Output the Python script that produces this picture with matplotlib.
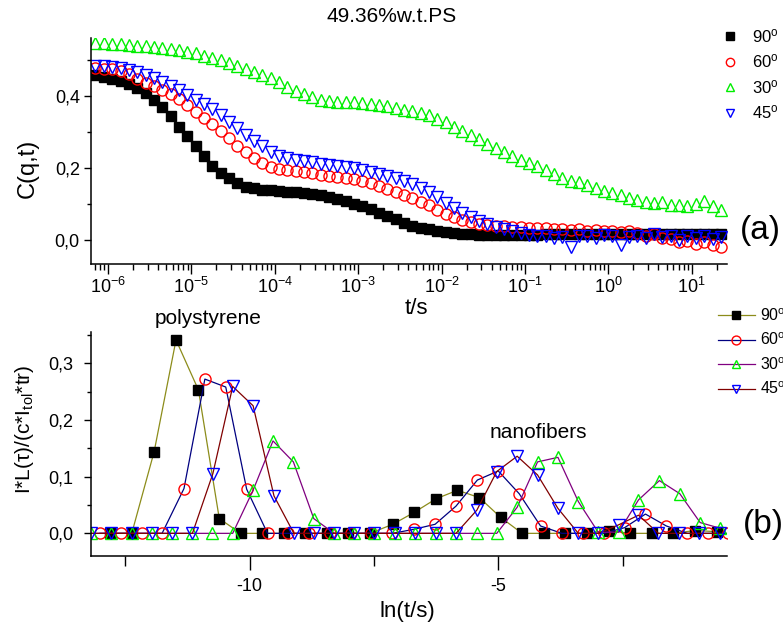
import numpy as np
import matplotlib
matplotlib.use('Agg')
import matplotlib.pyplot as plt
from matplotlib.ticker import FuncFormatter, MultipleLocator, LogLocator, NullFormatter

plt.rcParams['font.family'] = ['Liberation Sans', 'DejaVu Sans']
plt.rcParams['mathtext.default'] = 'regular'

labels = [r'90$^{o}$', r'60$^{o}$', r'30$^{o}$', r'45$^{o}$']

# (a) correlation functions, log10 of lag time
lag_exp = np.round(np.arange(-6.15, 1.36, 0.1), 2)

c90 = [0.458, 0.452, 0.447, 0.441, 0.434, 0.423, 0.408, 0.390, 0.368, 0.343,
       0.315, 0.290, 0.262, 0.232, 0.205, 0.186, 0.172, 0.158, 0.148, 0.143,
       0.140, 0.138, 0.136, 0.134, 0.132, 0.130, 0.127, 0.124, 0.120, 0.115,
       0.108, 0.100, 0.093, 0.085, 0.075, 0.067, 0.058, 0.048, 0.040, 0.034,
       0.029, 0.025, 0.021, 0.018, 0.016, 0.015, 0.014, 0.014, 0.014, 0.014,
       0.014, 0.014, 0.014, 0.014, 0.015, 0.015, 0.015, 0.015, 0.015, 0.015,
       0.016, 0.016, 0.016, 0.016, 0.016, 0.016, 0.017, 0.017, 0.017, 0.017,
       0.017, 0.017, 0.017, 0.017, 0.017, 0.017]
c60 = [0.478, 0.476, 0.474, 0.468, 0.460, 0.448, 0.437, 0.428, 0.416, 0.405,
       0.392, 0.374, 0.354, 0.338, 0.322, 0.302, 0.282, 0.262, 0.244, 0.228,
       0.213, 0.203, 0.198, 0.195, 0.191, 0.188, 0.185, 0.181, 0.177, 0.175,
       0.172, 0.168, 0.163, 0.158, 0.150, 0.141, 0.132, 0.124, 0.116, 0.106,
       0.096, 0.084, 0.072, 0.063, 0.055, 0.049, 0.045, 0.042, 0.040, 0.038,
       0.037, 0.036, 0.034, 0.033, 0.032, 0.030, 0.030, 0.028, 0.029, 0.026,
       0.027, 0.025, 0.026, 0.022, 0.024, 0.018, 0.012, 0.015, 0.006, 0.002,
       -0.006, -0.004, -0.012, -0.006, -0.015, -0.020]
c30 = [0.546, 0.546, 0.545, 0.543, 0.542, 0.540, 0.539, 0.537, 0.534, 0.531,
       0.527, 0.523, 0.518, 0.512, 0.506, 0.500, 0.492, 0.483, 0.474, 0.466,
       0.459, 0.450, 0.438, 0.425, 0.414, 0.405, 0.397, 0.390, 0.386, 0.384,
       0.383, 0.382, 0.380, 0.378, 0.376, 0.372, 0.367, 0.362, 0.357, 0.352,
       0.346, 0.337, 0.327, 0.315, 0.303, 0.292, 0.279, 0.266, 0.254, 0.243,
       0.232, 0.222, 0.213, 0.204, 0.193, 0.182, 0.172, 0.163, 0.160, 0.152,
       0.143, 0.136, 0.130, 0.124, 0.117, 0.110, 0.106, 0.103, 0.104, 0.098,
       0.096, 0.094, 0.100, 0.108, 0.095, 0.082]
c45 = [0.484, 0.482, 0.480, 0.477, 0.472, 0.466, 0.458, 0.449, 0.438, 0.428,
       0.416, 0.402, 0.388, 0.377, 0.364, 0.347, 0.328, 0.310, 0.292, 0.276,
       0.260, 0.245, 0.234, 0.228, 0.223, 0.220, 0.216, 0.212, 0.209, 0.206,
       0.203, 0.199, 0.195, 0.190, 0.184, 0.178, 0.172, 0.164, 0.154, 0.143,
       0.132, 0.118, 0.102, 0.088, 0.076, 0.064, 0.052, 0.043, 0.036, 0.030,
       0.026, 0.020, 0.014, 0.010, 0.012, 0.004, 0.008, -0.020, 0.010, 0.012,
       0.006, 0.014, 0.010, -0.015, 0.008, 0.012, 0.004, 0.015, 0.008, 0.010,
       0.000, 0.012, 0.005, 0.010, 0.002, 0.008]

# (b) distributions vs ln(t/s)
ln90 = [-12.81, -12.37, -11.92, -11.48, -11.03, -10.61, -10.18, -9.76, -9.31, -8.89,
        -8.45, -8.02, -7.58, -7.12, -6.69, -6.25, -5.82, -5.38, -4.95, -4.52,
        -4.09, -3.65, -3.22, -2.78, -2.35, -1.91, -1.48, -1.04, -0.61]
d90 = [0, 0, 0.144, 0.341, 0.253, 0.026, 0, 0, 0, 0,
       0, 0, 0, 0.016, 0.037, 0.061, 0.076, 0.063, 0.028, 0,
       0, 0, 0, 0.005, 0, 0, 0, 0.005, 0.003]
ln60 = [-13.01, -12.59, -12.17, -11.76, -11.32, -10.90, -10.48, -10.06, -9.64, -9.22,
        -8.81, -8.39, -7.97, -7.55, -7.13, -6.70, -6.27, -5.85, -5.42, -5.00,
        -4.58, -4.15, -3.72, -3.30, -2.88, -2.46, -2.04, -1.62, -1.20, -0.78, -0.38]
d60 = [0, 0, 0, 0, 0.079, 0.272, 0.258, 0.078, 0, 0,
       0, 0, 0, 0, 0, 0.007, 0.016, 0.048, 0.094, 0.110,
       0.070, 0.013, 0, 0, 0, 0.010, 0.034, 0.013, 0, 0, 0]
ln30 = [-13.18, -12.79, -12.37, -11.97, -11.56, -11.15, -10.75, -10.34, -9.93, -9.53,
        -9.12, -8.71, -8.30, -7.90, -7.49, -7.08, -6.67, -6.26, -5.85, -5.43,
        -5.03, -4.62, -4.21, -3.80, -3.39, -2.99, -2.58, -2.18, -1.76, -1.35, -0.94, -0.54]
d30 = [0, 0, 0, 0, 0, 0, 0, 0, 0.076, 0.163,
       0.126, 0.026, 0, 0, 0, 0, 0, 0, 0, 0,
       0, 0.046, 0.126, 0.134, 0.056, 0.002, 0.002, 0.059, 0.093, 0.070, 0.019, 0.009]
ln45 = [-13.18, -12.79, -12.37, -11.97, -11.56, -11.15, -10.74, -10.34, -9.93, -9.51,
        -9.11, -8.70, -8.30, -7.90, -7.49, -7.08, -6.67, -6.26, -5.85, -5.43,
        -5.03, -4.62, -4.21, -3.80, -3.39, -2.99, -2.58, -2.18, -1.78, -1.37, -0.96, -0.55]
d45 = [0, 0, 0, 0, 0, 0, 0.105, 0.259, 0.225, 0.066,
       0, 0, 0, 0, 0, 0, 0, 0, 0, 0.041,
       0.109, 0.136, 0.103, 0.044, 0, 0, 0.015, 0.032, 0, 0, 0, 0]

comma = FuncFormatter(lambda v, p: ('%.1f' % v).replace('.', ','))

fig = plt.figure(figsize=(7.83, 6.28), dpi=100)
ax1 = fig.add_axes([0.1162, 0.5796, 0.8123, 0.3599])
ax2 = fig.add_axes([0.1162, 0.1146, 0.8123, 0.3567])

t = 10.0 ** lag_exp
ax1.plot(t, c90, ls='none', marker='s', ms=7, color='black', mec='black', label=labels[0])
ax1.plot(t, c60, ls='none', marker='o', ms=8, mfc='none', mec='red', mew=1, label=labels[1])
ax1.plot(t, c30, ls='none', marker='^', ms=8, mfc='none', mec='#00ee00', mew=1, label=labels[2])
ax1.plot(t, c45, ls='none', marker='v', ms=8, mfc='none', mec='blue', mew=1, label=labels[3])
ax1.set_xscale('log')
ax1.set_xlim(10 ** -6.204, 10 ** 1.424)
ax1.set_ylim(-0.067, 0.561)
ax1.xaxis.set_major_locator(LogLocator(base=10, numticks=20))
ax1.xaxis.set_minor_locator(LogLocator(base=10, subs=np.arange(2, 10), numticks=20))
ax1.xaxis.set_minor_formatter(NullFormatter())
ax1.yaxis.set_major_locator(MultipleLocator(0.2))
ax1.yaxis.set_minor_locator(MultipleLocator(0.1))
ax1.yaxis.set_major_formatter(comma)
ax1.tick_params(axis='x', which='major', length=7, width=1, labelsize=13, pad=2)
ax1.tick_params(axis='x', which='minor', length=4, width=1)
ax1.tick_params(axis='y', which='major', length=5, width=1, labelsize=13, pad=3)
ax1.tick_params(axis='y', which='minor', length=3, width=1)

ax2.plot(ln90, d90, color='#8c8c1a', lw=0.9, marker='s', ms=7.5, mfc='black', mec='black', label=labels[0])
ax2.plot(ln60, d60, color='#000080', lw=0.9, marker='o', ms=8, mfc='none', mec='red', mew=1, label=labels[1])
ax2.plot(ln30, d30, color='#800080', lw=0.9, marker='^', ms=8, mfc='none', mec='#00ee00', mew=1, label=labels[2])
ax2.plot(ln45, d45, color='#800000', lw=0.9, marker='v', ms=8, mfc='none', mec='blue', mew=1, label=labels[3])
ax2.set_xlim(-13.19, -0.40)
ax2.set_ylim(-0.040, 0.355)
ax2.xaxis.set_major_locator(MultipleLocator(5))
ax2.xaxis.set_minor_locator(MultipleLocator(2.5))
ax2.xaxis.set_major_formatter(FuncFormatter(lambda v, p: '%d' % v))
ax2.yaxis.set_major_locator(MultipleLocator(0.1))
ax2.yaxis.set_minor_locator(MultipleLocator(0.05))
ax2.yaxis.set_major_formatter(comma)
ax2.tick_params(axis='x', which='major', length=10, width=1, labelsize=13, pad=6)
ax2.tick_params(axis='x', which='minor', length=7, width=1)
ax2.tick_params(axis='y', which='major', length=5, width=1, labelsize=13, pad=8)
ax2.tick_params(axis='y', which='minor', length=3, width=1)

for ax in (ax1, ax2):
    ax.spines['top'].set_visible(False)
    ax.spines['right'].set_visible(False)
    ax.spines['left'].set_linewidth(1.1)
    ax.spines['bottom'].set_linewidth(1.1)
    ax.set_facecolor('none')

h1, l1 = ax1.get_legend_handles_labels()
fig.legend(h1, l1, loc='upper left', bbox_to_anchor=(0.9217, 0.957), frameon=False,
           fontsize=12, borderpad=0, borderaxespad=0, handlelength=1.0,
           handletextpad=0.8, labelspacing=0.45, markerscale=0.75)
h2, l2 = ax2.get_legend_handles_labels()
fig.legend(h2, l2, loc='upper left', bbox_to_anchor=(0.917, 0.511), frameon=False,
           fontsize=11.5, borderpad=0, borderaxespad=0, handlelength=2.3,
           handletextpad=0.3, labelspacing=0.5, markerscale=0.8)

fig.text(391.7 / 783, 1 - 16 / 628, '49.36%w.t.PS', ha='center', va='center', fontsize=15)
fig.text(416 / 783, 1 - 309 / 628, 't/s', ha='center', va='center', fontsize=16)
fig.text(28 / 783, 1 - 168 / 628, 'C(q,t)', ha='center', va='center', rotation=90, fontsize=17)
fig.text(25 / 783, 1 - 429 / 628, r'I*L($\tau$)/(c*I$_{tol}$*tr)', ha='center', va='center',
         rotation=90, fontsize=15)
fig.text(407 / 783, 1 - 612 / 628, 'ln(t/s)', ha='center', va='center', fontsize=16)
fig.text(760 / 783, 1 - 230 / 628, '(a)', ha='center', va='center', fontsize=24)
fig.text(743 / 783, 1 - 524 / 628, '(b)', ha='left', va='center', fontsize=24)
fig.text(208 / 783, 1 - 318 / 628, 'polystyrene', ha='center', va='center', fontsize=15)
fig.text(538 / 783, 1 - 433 / 628, 'nanofibers', ha='center', va='center', fontsize=15)

fig.savefig('out.png', dpi=100)
